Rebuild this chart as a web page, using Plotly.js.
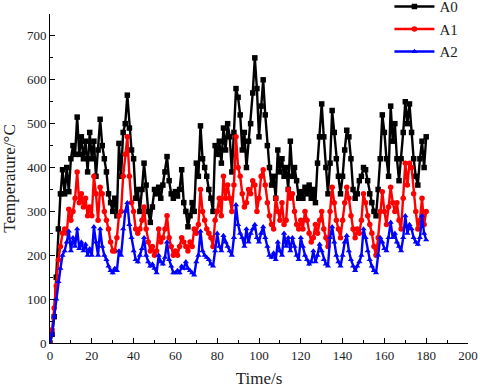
<!DOCTYPE html>
<html>
<head>
<meta charset="utf-8">
<script src="https://cdn.plot.ly/plotly-3.0.1.min.js"></script>
<style>body{margin:0;background:#fff}#chart{width:480px;height:390px}</style>
</head>
<body>
<div id="chart"></div>
<script>
// time in seconds, one reading per second
var time = [];
for (var i = 0; i <= 180; i++) time.push(i);

var a0 = [0,20,60,150,260,340,395,340,400,345,420,450,430,515,430,470,420,460,390,480,
  420,460,380,440,510,450,420,390,340,320,300,330,290,455,380,480,500,565,490,440,
  420,330,350,300,350,410,360,300,275,310,350,340,355,330,360,390,425,370,340,330,
  345,335,350,395,320,300,265,290,320,300,410,380,495,420,400,380,350,330,300,450,
  430,460,410,490,440,500,470,390,480,580,560,520,440,480,400,460,500,570,650,580,
  470,540,600,520,450,400,360,380,330,440,390,420,380,400,350,460,380,400,370,330,
  345,330,355,340,360,330,350,320,410,470,545,470,400,340,410,530,480,420,380,340,
  380,440,485,470,420,350,330,340,370,380,400,395,370,340,320,300,290,350,420,520,
  480,420,380,540,460,500,420,370,420,480,550,500,545,480,420,380,360,420,460,400,470];

var a1 = [0,30,80,130,190,220,250,260,250,305,280,300,330,390,320,340,310,330,290,310,
  290,380,340,280,355,340,300,280,260,230,210,210,240,290,300,380,430,470,380,320,
  300,260,250,260,280,310,260,230,210,220,200,210,260,230,240,260,290,240,220,200,
  210,200,220,240,230,220,210,230,220,260,250,270,350,300,280,260,250,240,220,280,
  300,330,290,380,330,360,330,300,360,470,400,380,340,310,320,350,340,370,360,300,
  330,380,395,360,320,290,270,260,330,300,280,320,270,280,350,330,340,300,270,260,
  280,260,300,280,250,230,240,270,250,280,300,260,240,220,300,355,320,280,260,240,
  280,320,355,330,290,260,240,260,250,280,340,320,290,270,250,220,200,240,300,345,
  300,270,310,355,320,300,320,280,260,330,410,360,410,400,340,300,260,280,330,270,300];

var a2 = [0,20,60,100,140,170,200,210,230,255,210,240,220,260,215,230,210,225,200,215,
  200,265,230,200,260,220,200,190,175,165,160,170,165,210,200,260,300,320,270,240,
  210,190,185,200,215,240,200,185,175,180,170,160,200,185,180,195,230,190,175,160,
  160,165,160,175,170,185,170,165,160,155,185,200,255,210,200,195,190,180,175,210,
  250,220,210,245,230,220,210,200,240,315,270,250,240,220,260,230,250,260,270,240,
  230,250,265,240,220,200,195,205,190,230,210,200,250,220,240,210,240,220,200,190,
  240,220,200,190,180,185,210,185,200,225,210,190,180,175,240,265,230,200,185,175,
  200,230,245,210,190,175,165,175,185,200,260,240,210,190,175,165,160,200,240,230,
  215,210,240,275,240,250,230,220,210,240,290,250,270,260,240,230,225,240,290,250,235];

var seriesNames = ['A0', 'A1', 'A2'];
var seriesColors = ['#000000', '#ff0000', '#0000ff'];
var seriesSymbols = ['square', 'circle', 'triangle-up'];
var seriesValues = [a0, a1, a2];

var data = seriesValues.map(function (vals, k) {
  return {
    x: time,
    y: vals,
    mode: 'lines+markers',
    name: seriesNames[k],
    line: {color: seriesColors[k], width: 2.4},
    marker: {color: seriesColors[k], symbol: seriesSymbols[k], size: 5.5}
  };
});

var serif = 'Liberation Serif, Times New Roman, serif';

var layout = {
  width: 480,
  height: 390,
  margin: {l: 50, r: 12, t: 14, b: 47, autoexpand: false},
  paper_bgcolor: '#fff',
  plot_bgcolor: '#fff',
  font: {family: serif, color: '#222'},
  showlegend: true,
  legend: {
    x: 0.812, y: 1.072, xanchor: 'left', yanchor: 'top',
    bgcolor: 'rgba(0,0,0,0)',
    font: {family: serif, size: 15, color: '#222'},
    itemwidth: 40, tracegroupgap: 0
  },
  xaxis: {
    range: [0, 200], dtick: 20, tick0: 0,
    showline: true, linecolor: '#000', linewidth: 1,
    showgrid: false, zeroline: false,
    ticks: 'inside', ticklen: 5, tickcolor: '#000',
    minor: {dtick: 10, ticks: 'inside', ticklen: 3, tickcolor: '#000', showgrid: false},
    tickfont: {family: serif, size: 13, color: '#222'},
    title: {text: 'Time/s', font: {family: serif, size: 17, color: '#222'}, standoff: 10}
  },
  yaxis: {
    range: [0, 750], dtick: 100, tick0: 0,
    showline: true, linecolor: '#000', linewidth: 1,
    showgrid: false, zeroline: false,
    ticks: 'inside', ticklen: 5, tickcolor: '#000',
    minor: {dtick: 50, ticks: 'inside', ticklen: 3, tickcolor: '#000', showgrid: false},
    tickfont: {family: serif, size: 13, color: '#222'},
    title: {text: 'Temperature/°C', font: {family: serif, size: 17, color: '#222'}, standoff: 6}
  }
};

Plotly.newPlot('chart', data, layout, {displayModeBar: false, staticPlot: true});
</script>
</body>
</html>
